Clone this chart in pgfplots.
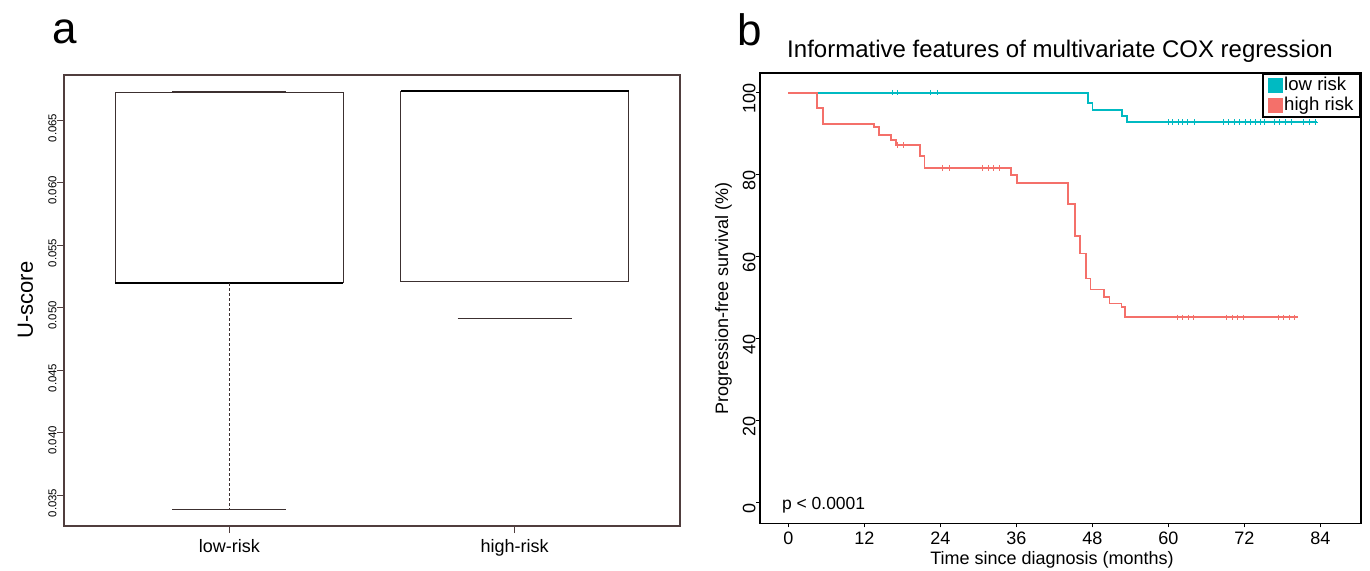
\documentclass[border=0pt]{standalone}
\usepackage{fontspec}
\setmainfont{Liberation Sans}
\usepackage{pgfplots}
\pgfplotsset{compat=1.18}
\definecolor{lowc}{RGB}{0,186,194}
\definecolor{highc}{RGB}{244,112,106}
\definecolor{boxc}{RGB}{60,48,48}
\definecolor{framec}{RGB}{80,62,62}
\newcommand{\fs}[1]{\fontsize{#1}{#1}\selectfont}
\begin{document}
\begin{tikzpicture}
\path[use as bounding box] (0pt,0pt) rectangle (685pt,285pt);

% ---------------- panel a ----------------
\begin{axis}[
  at={(32pt,22pt)}, anchor=south west,
  scale only axis, width=308pt, height=225.5pt,
  xmin=0.42, xmax=2.58, ymin=0.03252, ymax=0.0686,
  axis line style={framec, line width=0.6pt},
  tick pos=left, tick align=outside, major tick length=3.5pt,
  tick style={framec, line width=0.5pt},
  xtick={1,2}, xticklabels={low-risk,high-risk},
  ytick={0.035,0.040,0.045,0.050,0.055,0.060,0.065},
  yticklabels={0.035,0.040,0.045,0.050,0.055,0.060,0.065},
  xticklabel style={font=\fs{9pt}, inner sep=0pt, yshift=-3pt},
  yticklabel style={font=\fs{5.7pt}, rotate=90, anchor=south, inner sep=0pt, xshift=-4pt},
  scaled y ticks=false,
]
% low-risk group
\addplot[boxc, line width=0.5pt] coordinates {(0.6,0.05194) (0.6,0.06718) (1.4,0.06718) (1.4,0.05194)};
\addplot[black, line width=1.1pt] coordinates {(0.6,0.05194) (1.4,0.05194)};
\addplot[boxc, line width=0.5pt, dash pattern=on 1.5pt off 1pt] coordinates {(1,0.05194) (1,0.03386)};
\addplot[boxc, line width=0.5pt] coordinates {(0.8,0.03386) (1.2,0.03386)};
\addplot[boxc, line width=0.5pt] coordinates {(0.8,0.0673) (1.2,0.0673)};
% high-risk group
\addplot[boxc, line width=0.5pt] coordinates {(1.6,0.0673) (1.6,0.05206) (2.4,0.05206) (2.4,0.0673)};
\addplot[black, line width=1.1pt] coordinates {(1.6,0.0673) (2.4,0.0673)};
\addplot[boxc, line width=0.5pt] coordinates {(1.8,0.0491) (2.2,0.0491)};
\end{axis}

% ---------------- panel b ----------------
\begin{axis}[
  at={(380pt,23.35pt)}, anchor=south west,
  scale only axis, width=300.5pt, height=225.15pt,
  xmin=-4.47, xmax=90.4, ymin=-5.02, ymax=104.8,
  axis line style={black, line width=0.6pt},
  tick pos=left, tick align=outside, major tick length=2pt,
  tick style={black, line width=0.5pt},
  xtick={0,12,24,36,48,60,72,84},
  ytick={0,20,40,60,80,100},
  /pgf/number format/assume math mode=true,
  xticklabel style={font=\fs{9pt}, inner sep=0pt, yshift=-2pt},
  yticklabel style={font=\fs{9pt}, rotate=90, anchor=south, inner sep=0pt, xshift=-3pt},
  legend style={at={(1,1)}, anchor=north east, draw=black, line width=0.9pt,
    font=\fs{9.3pt}, inner xsep=2.5pt, inner ysep=1pt, row sep=0pt, nodes={inner sep=0.8pt}},
  legend cell align=left,
]
\addlegendimage{legend image code/.code={\fill[lowc] (0pt,-3.2pt) rectangle (6.4pt,3.2pt);}}
\addlegendentry{low risk}
\addlegendimage{legend image code/.code={\fill[highc] (0pt,-3.2pt) rectangle (6.4pt,3.2pt);}}
\addlegendentry{high risk}

% low risk curve
\addplot[lowc, line width=0.9pt, const plot, forget plot] coordinates {
 (0,100) (47.3,97.5) (48.0,95.8) (52.7,94.3) (53.5,92.8) (83.4,92.8)};
\addplot[lowc, only marks, mark=+, mark size=1.4pt, line width=0.5pt, forget plot] coordinates {
 (16.4,100) (17.2,100) (22.5,100) (23.5,100)
 (60.0,92.8) (60.7,92.8) (61.6,92.8) (62.3,92.8) (63.0,92.8) (64.1,92.8)
 (68.7,92.8) (69.5,92.8) (70.4,92.8) (71.2,92.8) (72.1,92.8) (72.9,92.8)
 (73.7,92.8) (74.5,92.8) (75.2,92.8) (76.8,92.8) (77.6,92.8) (78.5,92.8)
 (79.5,92.8) (81.3,92.8) (82.2,92.8) (83.2,92.8)};

% high risk curve
\addplot[highc, line width=0.9pt, const plot, forget plot] coordinates {
 (0,100) (4.5,96.2) (5.5,92.4) (13.5,91.7) (14.3,89.7) (16.2,88.5) (17.0,87.2)
 (20.8,84.6) (21.5,81.7) (35.1,79.9) (36.1,78.0) (44.2,72.9) (45.2,65.1)
 (46.1,60.8) (47.0,54.7) (47.7,52.0) (49.8,50.2) (50.7,48.6) (52.6,47.8)
 (53.2,45.2) (80.5,45.2)};
\addplot[highc, only marks, mark=+, mark size=1.4pt, line width=0.5pt, forget plot] coordinates {
 (17.3,87.2) (18.2,87.2)
 (24.4,81.7) (25.4,81.7) (30.7,81.7) (31.6,81.7) (32.4,81.7) (33.4,81.7)
 (61.4,45.2) (62.3,45.2) (63.1,45.2) (64.0,45.2)
 (69.2,45.2) (70.1,45.2) (70.9,45.2) (71.9,45.2)
 (77.4,45.2) (78.2,45.2) (79.1,45.2) (79.9,45.2)};
\end{axis}

% ---------------- text ----------------
\node[anchor=base, font=\fs{22pt}, inner sep=0pt] at (32.5pt,263.5pt) {a};
\node[anchor=base, font=\fs{22pt}, inner sep=0pt] at (375pt,262.5pt) {b};
\node[anchor=base, font=\fs{12pt}, inner sep=0pt] at (530pt,256.5pt) {Informative features of multivariate COX regression};
\node[anchor=base, rotate=90, font=\fs{11pt}, inner sep=0pt] at (16.5pt,135pt) {U-score};
\node[anchor=base, rotate=90, font=\fs{9pt}, inner sep=0pt] at (364pt,135.75pt) {Progression-free survival (\%)};
\node[anchor=base, font=\fs{9pt}, inner sep=0pt] at (526pt,3pt) {Time since diagnosis (months)};
\node[anchor=base west, font=\fs{8.75pt}, inner sep=0pt] at (390.8pt,30.35pt) {p < 0.0001};
\end{tikzpicture}
\end{document}
